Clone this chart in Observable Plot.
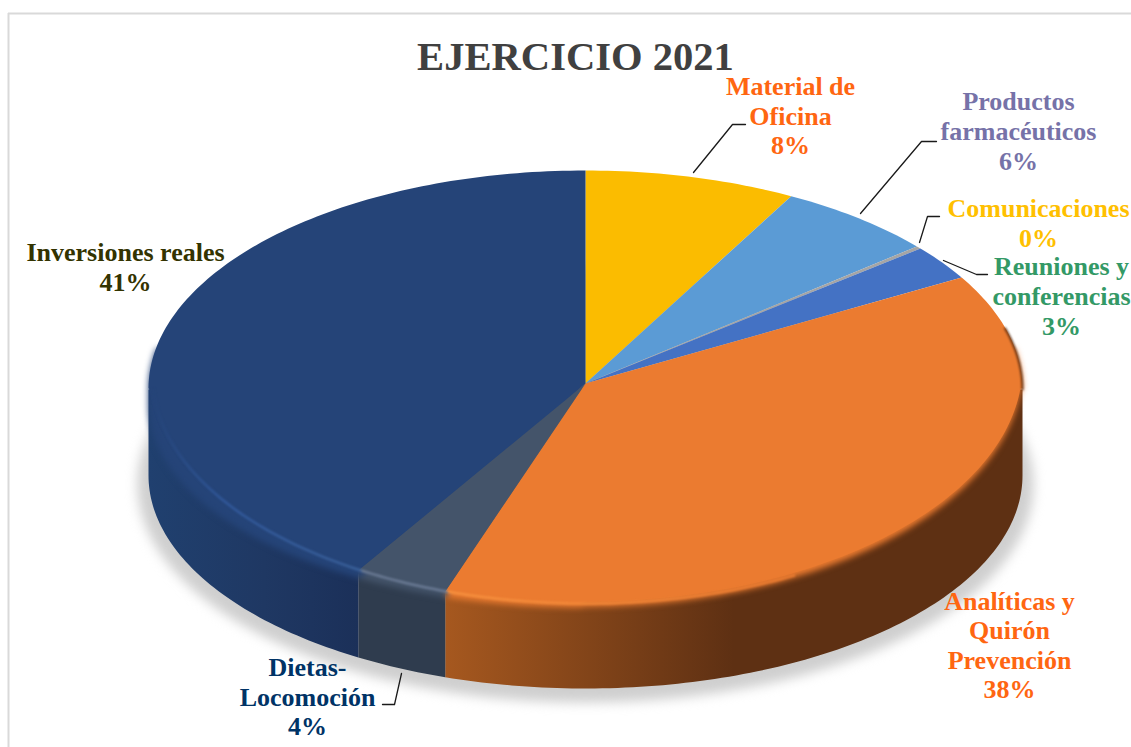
<!DOCTYPE html>
<html lang="es">
<head>
<meta charset="utf-8">
<script src="https://cdn.jsdelivr.net/npm/d3@7"></script>
<script src="https://cdn.jsdelivr.net/npm/@observablehq/plot@0.6"></script>
<style>
html,body{margin:0;padding:0;background:#fff;overflow:hidden}
svg{display:block}
</style>
</head>
<body>
<div id="chart"></div>
<script>
// Data (clockwise from 12 o'clock)
const categories = ["Material de\nOficina", "Productos\nfarmacéuticos", "Comunicaciones", "Reuniones y\nconferencias", "Analíticas y\nQuirón\nPrevención", "Dietas-\nLocomoción", "Inversiones reales"];
const values = [7.8, 5.9, 0.2, 2.6, 38.7, 3.5, 41.3];
const percentLabels = ["8%", "6%", "0%", "3%", "38%", "4%", "41%"];

// Styles
const sliceColors = ["#fbbc00", "#5b9bd5", "#a5a5a5", "#4472c4", "#eb7b30", "#44546a", "#254478"];
const sideColors = [null, null, null, null, "url(#ladoNaranja)", "#2f3c4e", "url(#ladoAzul)"];
const glossColors = [null, null, null, null, "url(#brilloNaranja)", "#6a7a94", "url(#brilloAzul)"];
const labelColors = ["#ff6611", "#7672a8", "#ffc000", "#339966", "#ff6611", "#003366", "#333300"];

// Layout
const labelX = [790, 1018, 1038, 1061, 1009, 307, 125];
const labelY = [114.5, 130, 222, 295, 644, 695.5, 266];
const leaders = [
  [[693,172],[732,124],[745,124]],
  [[860,213],[921,141],[936,141]],
  [[919,242],[927,216],[939,216]],
  [[943,260],[976,274],[987,274]],
  null,
  [[401,673],[394,704],[382,704]],
  null
];
const apex = {x: 585, y: 383};
// Each outline: upper half (cy, ry), lower right half (cyR, ryR), lower left half (cyL, ryL)
const rim     = {rx: 437, cy: 389, ry: 219, cyR: 367, ryR: 239, cyL: 405, ryL: 202};
const face    = {rx: 437, cy: 388, ry: 218, cyR: 365, ryR: 236, cyL: 375, ryL: 228};
const gloss   = {rx: 433, cy: 388, ry: 215, cyR: 375, ryR: 228, cyL: 375, ryL: 228};
const sideTop = {rx: 437, cy: 389, ry: 219, cyR: 355, ryR: 235, cyL: 355, ryL: 235};
const base    = {rx: 437, cy: 475, ry: 213, cyR: 475, ryR: 213, cyL: 475, ryL: 213};
const shadow  = {rx: 448, cy: 484, ry: 218, cyR: 484, ryR: 218, cyL: 484, ryL: 218};
const cx = 585;

const cumulative = d3.cumsum(values);
const total = d3.sum(values);
const slices = values.map((v, i) => ({i, a0: (cumulative[i] - v) / total, a1: cumulative[i] / total}));

const at = (e, t) => {
  const c = Math.cos(2 * Math.PI * t), s = Math.sin(2 * Math.PI * t);
  const y = c >= 0 ? e.cy - e.ry * c
    : Math.max(e.cy, s >= 0 ? e.cyR - e.ryR * c : e.cyL - e.ryL * c);
  return {x: cx + e.rx * s, y};
};
const arc = (e, a0, a1) => {
  const n = Math.max(2, Math.ceil((a1 - a0) * 360));
  return d3.range(n + 1).map(k => at(e, a0 + (a1 - a0) * k / n));
};
const wedge = (e, s, a0 = s.a0, a1 = s.a1) => [apex, ...arc(e, a0, a1)].map(p => ({...p, i: s.i}));

const faceRows = slices.flatMap(s => wedge(face, s).map(p => ({...p, c: sliceColors[s.i]})));
const rimRows = slices.filter(s => s.a1 > 0.22 && s.a0 < 0.78).flatMap(s =>
  wedge(rim, s, Math.max(s.a0, 0.22), Math.min(s.a1, 0.78)).map(p => ({...p, c: sliceColors[s.i]})));
const sideRows = slices.filter(s => sideColors[s.i] && s.a1 > 0.25 && s.a0 < 0.75).flatMap(s => {
  const a0 = Math.max(s.a0, 0.25), a1 = Math.min(s.a1, 0.75);
  return [...arc(sideTop, a0, a1), ...arc(base, a0, a1).reverse()].map(p => ({...p, i: s.i, c: sideColors[s.i]}));
});
const glossRows = slices.filter(s => glossColors[s.i]).flatMap(s => {
  const a0 = s.i === 4 ? 0.42 : s.a0, a1 = s.i === 6 ? 0.74 : s.a1;
  return arc(gloss, a0, a1).map(p => ({...p, i: s.i, c: glossColors[s.i]}));
});
const edgeRows = arc(rim, 0.205, 0.25);
const leaderRows = leaders.flatMap((l, i) => l ? l.map(([x, y]) => ({x, y, i})) : []);
const labels = categories.map((c, i) => ({
  text: c + "\n" + percentLabels[i], x: labelX[i], y: labelY[i], c: labelColors[i]
}));

const defs = () => d3.create("svg:defs").html(`
  <linearGradient id="ladoNaranja"><stop offset="0" stop-color="#a6581f"/><stop offset=".5" stop-color="#5e3013"/><stop offset="1" stop-color="#5e3013"/></linearGradient>
  <linearGradient id="ladoAzul"><stop offset="0" stop-color="#20406f"/><stop offset=".55" stop-color="#1f3863"/><stop offset="1" stop-color="#1b3059"/></linearGradient>
  <linearGradient id="brilloNaranja"><stop offset="0" stop-color="#f7913f"/><stop offset="1" stop-color="#eb7b30"/></linearGradient>
  <linearGradient id="brilloAzul"><stop offset="0" stop-color="#254478"/><stop offset=".35" stop-color="#31589a"/><stop offset="1" stop-color="#3a6099"/></linearGradient>
`).node();

const chart = Plot.plot({
  width: 1131,
  height: 747,
  margin: 0,
  x: {domain: [0, 1131], range: [0, 1131], axis: null},
  y: {domain: [0, 747], range: [0, 747], axis: null},
  color: {type: "identity"},
  style: {background: "#fff", overflow: "visible"},
  marks: [
    defs,
    Plot.ruleY([13], {x1: 8, x2: 1131, stroke: "#d9d9d9", strokeWidth: 2}),
    Plot.ruleX([8], {y1: 13, y2: 747, stroke: "#d9d9d9", strokeWidth: 2}),
    Plot.line(arc(shadow, 0, 1), {x: "x", y: "y", fill: "#cfcfcf", stroke: "none"}),
    Plot.line(sideRows, {x: "x", y: "y", z: "i", fill: "c", stroke: "none"}),
    Plot.line(rimRows, {x: "x", y: "y", z: "i", fill: "c", stroke: "none"}),
    Plot.line(faceRows, {x: "x", y: "y", z: "i", fill: "c", stroke: "none"}),
    Plot.line(edgeRows, {x: "x", y: "y", stroke: "#5e3013", strokeWidth: 2}),
    Plot.line(glossRows, {x: "x", y: "y", z: "i", stroke: "c", strokeWidth: 2.5}),
    Plot.line(leaderRows, {x: "x", y: "y", z: "i", stroke: "#1a1a1a", strokeWidth: 1.3}),
    Plot.text(["EJERCICIO 2021"], {x: () => 575, y: () => 56.5, text: d => d, fill: "#404040", fontFamily: "Liberation Serif", fontWeight: 700, fontSize: 40.6}),
    Plot.text(labels, {x: "x", y: "y", text: "text", fill: "c", fontFamily: "Liberation Serif", fontWeight: 700, fontSize: 26, lineHeight: 1.14})
  ]
});
// Soft edges of the 3-D look, applied to the line marks in drawing order
const blurs = [6, 0, 3, 0, 1.2, 1.2, 0];
chart.querySelectorAll('g[aria-label="line"]').forEach((g, k) => {
  if (blurs[k]) g.style.filter = `blur(${blurs[k]}px)`;
});
document.getElementById("chart").append(chart);
</script>
</body>
</html>
